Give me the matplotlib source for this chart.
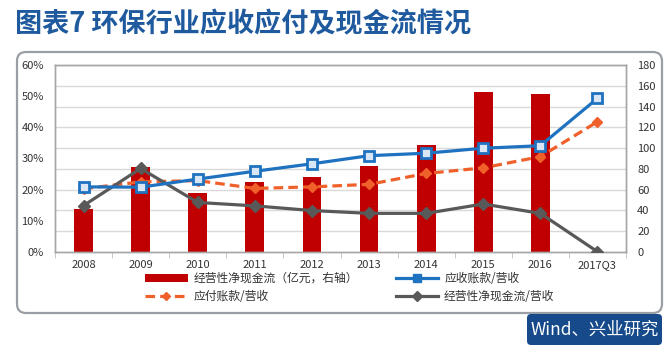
import matplotlib
matplotlib.use("Agg")
import matplotlib.pyplot as plt
from matplotlib.patches import FancyBboxPatch
from matplotlib.lines import Line2D
from matplotlib.patches import Patch
from matplotlib.transforms import IdentityTransform
import numpy as np

plt.rcParams['font.family'] = ['Noto Sans CJK SC', 'DejaVu Sans']

categories = ["2008", "2009", "2010", "2011", "2012", "2013", "2014", "2015", "2016", "2017Q3"]
cash_flow = [41, 81.5, 57, 67.7, 72.5, 82.8, 103, 153.7, 152, 0]          # 亿元, right axis
receivable_ratio = [20.9, 20.8, 23.4, 25.9, 28.3, 30.9, 31.7, 33.3, 34.1, 49.3]  # %
payable_ratio = [20.3, 22.5, 22.9, 20.4, 20.9, 21.7, 25.2, 27.0, 30.6, 41.8]     # %
cf_ratio = [14.9, 26.8, 15.9, 14.8, 13.3, 12.4, 12.4, 15.4, 12.4, 0.1]           # %
left_ticks = [0, 10, 20, 30, 40, 50, 60]
right_ticks = [0, 20, 40, 60, 80, 100, 120, 140, 160, 180]

W, H = 667, 358
fig = plt.figure(figsize=(W / 100, H / 100), dpi=100)
fig.patch.set_facecolor('white')

def px(x0, y0, x1, y1):
    return [x0 / W, 1 - y1 / H, (x1 - x0) / W, (y1 - y0) / H]

# rounded frame
frame = FancyBboxPatch((17, H - 313), 645, 261, boxstyle="round,pad=0,rounding_size=9",
                       transform=IdentityTransform(), facecolor='white',
                       edgecolor='#9a9fa6', linewidth=1.6, zorder=-5)
fig.patches.append(frame)

# title
fig.text(15 / W, 1 - 24 / H, "图表7 环保行业应收应付及现金流情况", fontsize=19.5, fontweight='bold',
         color='#1f5a9e', va='center', ha='left')

# source box
src = FancyBboxPatch((527, H - 345), 135, 31, boxstyle="round,pad=0,rounding_size=4",
                     transform=IdentityTransform(), facecolor='#164a8a', edgecolor='none', zorder=1)
fig.patches.append(src)
fig.text(594.5 / W, 1 - 330 / H, "Wind、兴业研究", fontsize=12.5, color='white',
         ha='center', va='center', zorder=2)

ax = fig.add_axes(px(55, 65, 626, 252))
ax2 = ax.twinx()
x = np.arange(len(categories))

# gridlines + bars on right axis
for t in right_ticks[1:]:
    ax2.axhline(t, color='#d9d9d9', linewidth=1, zorder=0)
ax2.bar(x, cash_flow, width=0.33, color='#c00000', zorder=2)
ax2.set_ylim(0, 180)
ax2.set_yticks(right_ticks)
ax2.set_yticklabels([str(t) for t in right_ticks])

ax.set_zorder(ax2.get_zorder() + 1)
ax.patch.set_visible(False)

ax.plot(x, receivable_ratio, color='#1f72c0', linewidth=2.3, marker='s', markersize=7,
        markerfacecolor='#d8e6f5', markeredgecolor='#1f72c0', markeredgewidth=2, zorder=4)
ax.plot(x, payable_ratio, color='#f0602a', linewidth=2.3, linestyle=(0, (3, 1.6)), marker='D',
        markersize=5, markerfacecolor='#f0602a', markeredgecolor='#f0602a', zorder=3)
ax.plot(x, cf_ratio, color='#595959', linewidth=2.3, marker='D', markersize=6,
        markerfacecolor='#595959', markeredgecolor='#595959', zorder=3)

ax.set_ylim(0, 60)
ax.set_xlim(-0.5, len(categories) - 0.5)
ax.set_yticks(left_ticks)
ax.set_yticklabels([f"{t}%" for t in left_ticks])
ax.set_xticks(x)
ax.set_xticklabels(categories)
ax.set_xticks(np.arange(-0.5, len(categories), 1), minor=True)
ax.tick_params(axis='x', which='major', length=0, pad=6, labelsize=8, colors='#333333')
ax.tick_params(axis='x', which='minor', length=4, color='#bfbfbf')
ax.tick_params(axis='y', length=0, pad=8, labelsize=8, colors='#333333')
ax2.tick_params(axis='y', length=0, pad=8, labelsize=8, colors='#333333')
ax.grid(False)
ax2.grid(False)
for a in (ax, ax2):
    for s in a.spines.values():
        s.set_color('#a6a6a6')
        s.set_linewidth(1)

# legend (column-wise fill: col1 = bar, payable; col2 = receivable, cf ratio)
h_bar = Patch(facecolor='#c00000', edgecolor='none')
h_rec = Line2D([], [], color='#1f72c0', linewidth=2.3, marker='s', markersize=6,
               markerfacecolor='#1f72c0', markeredgecolor='#1f72c0')
h_pay = Line2D([], [], color='#f0602a', linewidth=2.3, linestyle=(0, (3, 1.6)), marker='D', markersize=4,
               markerfacecolor='#f0602a', markeredgecolor='#f0602a')
h_cf = Line2D([], [], color='#595959', linewidth=2.3, marker='D', markersize=5,
              markerfacecolor='#595959', markeredgecolor='#595959')
handles = [h_bar, h_pay, h_rec, h_cf]
labels = ["经营性净现金流（亿元，右轴）", "应付账款/营收", "应收账款/营收", "经营性净现金流/营收"]
leg = fig.legend(handles, labels, ncol=2, loc='upper left',
                 bbox_to_anchor=(145 / W, 1 - 272 / H), frameon=False, fontsize=8.5,
                 handlelength=3.6, handletextpad=0.5, columnspacing=3.2, labelspacing=0.45,
                 borderaxespad=0, borderpad=0)
for t in leg.get_texts():
    t.set_color('#333333')

fig.savefig("out.png", dpi=100)
